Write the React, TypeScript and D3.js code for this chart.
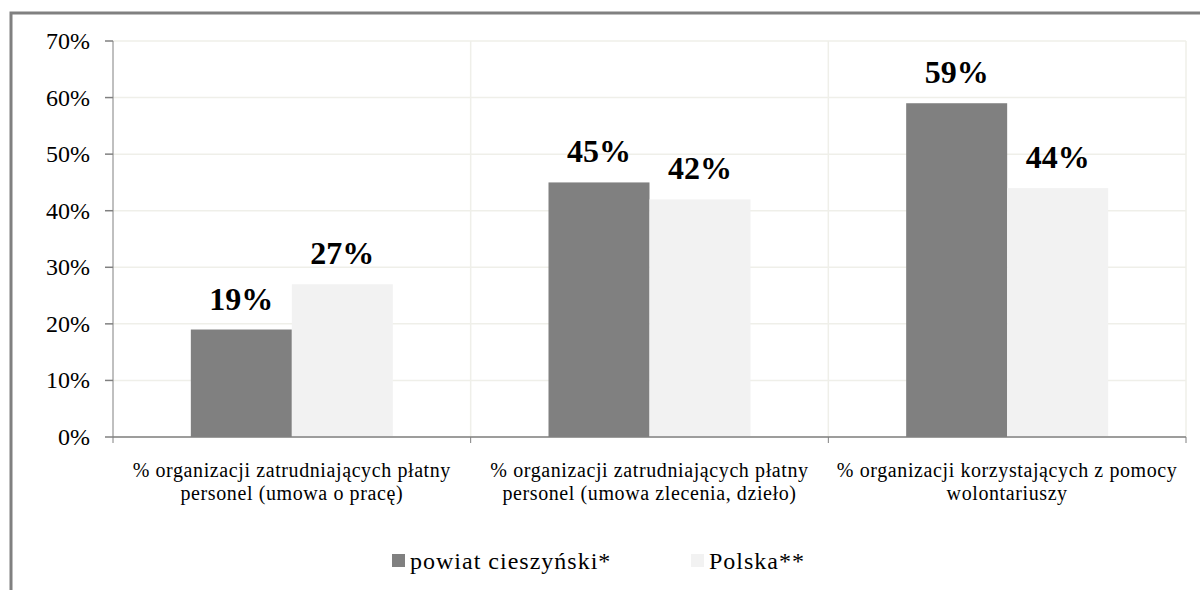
import React from "react";
import * as d3 from "d3";

const categories: string[][] = [
  ["% organizacji zatrudniających płatny", "personel (umowa o pracę)"],
  ["% organizacji zatrudniających płatny", "personel (umowa zlecenia, dzieło)"],
  ["% organizacji korzystających z pomocy", "wolontariuszy"],
];
const seriesNames = ["powiat cieszyński*", "Polska**"];
const powiat = [19, 45, 59];
const polska = [27, 42, 44];
const yTicks = [0, 10, 20, 30, 40, 50, 60, 70];
const colors = ["#808080", "#f2f2f2"];

export default function App() {
  const W = 1200, H = 590;
  const left = 113, right = 1186, top = 41, bottom = 437;
  const x = d3.scaleBand<number>().domain([0, 1, 2]).range([left, right]).paddingInner(0).paddingOuter(0);
  const y = d3.scaleLinear().domain([0, 70]).range([bottom, top]);
  const bw = 101;
  const series = [powiat, polska];
  const fs = { fontFamily: "Liberation Serif, DejaVu Serif, serif" };
  return (
    <svg width={W} height={H} style={{ position: "absolute", left: 0, top: 0, background: "#fff" }}>
      <rect x={11} y={13} width={1400} height={900} fill="none" stroke="#808080" strokeWidth={3} />
      {yTicks.map((t) => (
        <line key={"g" + t} x1={left} x2={right} y1={y(t)} y2={y(t)} stroke="#efefe9" strokeWidth={1.5} />
      ))}
      {[1, 2, 3].map((i) => (
        <line key={"v" + i} x1={left + i * x.bandwidth()} x2={left + i * x.bandwidth()} y1={top} y2={bottom} stroke="#efefe9" strokeWidth={1.5} />
      ))}
      {series.map((s, si) =>
        s.map((v, ci) => {
          const cx = (x(ci) as number) + x.bandwidth() / 2;
          const bx = si === 0 ? cx - bw : cx;
          return (
            <g key={si + "-" + ci}>
              <rect x={bx} y={y(v)} width={bw} height={bottom - y(v)} fill={colors[si]} />
              <text x={bx + bw / 2} y={y(v) - 20} textAnchor="middle" fontWeight="bold" fontSize={32} style={fs}>
                {v}%
              </text>
            </g>
          );
        })
      )}
      <line x1={left} x2={left} y1={top} y2={bottom} stroke="#808080" strokeWidth={1} />
      <line x1={left} x2={right} y1={bottom} y2={bottom} stroke="#808080" strokeWidth={1.5} />
      {yTicks.map((t) => (
        <g key={"t" + t}>
          <line x1={105} x2={left} y1={y(t)} y2={y(t)} stroke="#808080" strokeWidth={1.5} />
          <text x={90} y={y(t) + 8} textAnchor="end" fontSize={24} style={fs}>
            {t}%
          </text>
        </g>
      ))}
      {[0, 1, 2, 3].map((i) => (
        <line key={"xt" + i} x1={left + i * x.bandwidth()} x2={left + i * x.bandwidth()} y1={bottom} y2={bottom + 6} stroke="#808080" strokeWidth={1} />
      ))}
      {categories.map((lines, ci) => (
        <text key={"c" + ci} textAnchor="middle" fontSize={20} letterSpacing={0.6} style={fs}>
          {lines.map((l, li) => (
            <tspan key={li} x={(x(ci) as number) + x.bandwidth() / 2} y={477 + li * 23}>
              {l}
            </tspan>
          ))}
        </text>
      ))}
      {seriesNames.map((n, i) => {
        const lx = [392, 691][i];
        return (
          <g key={"l" + i}>
            <rect x={lx} y={554} width={13} height={13} fill={colors[i]} />
            <text x={lx + 18} y={569} fontSize={24} letterSpacing={1} style={fs}>
              {n}
            </text>
          </g>
        );
      })}
    </svg>
  );
}
